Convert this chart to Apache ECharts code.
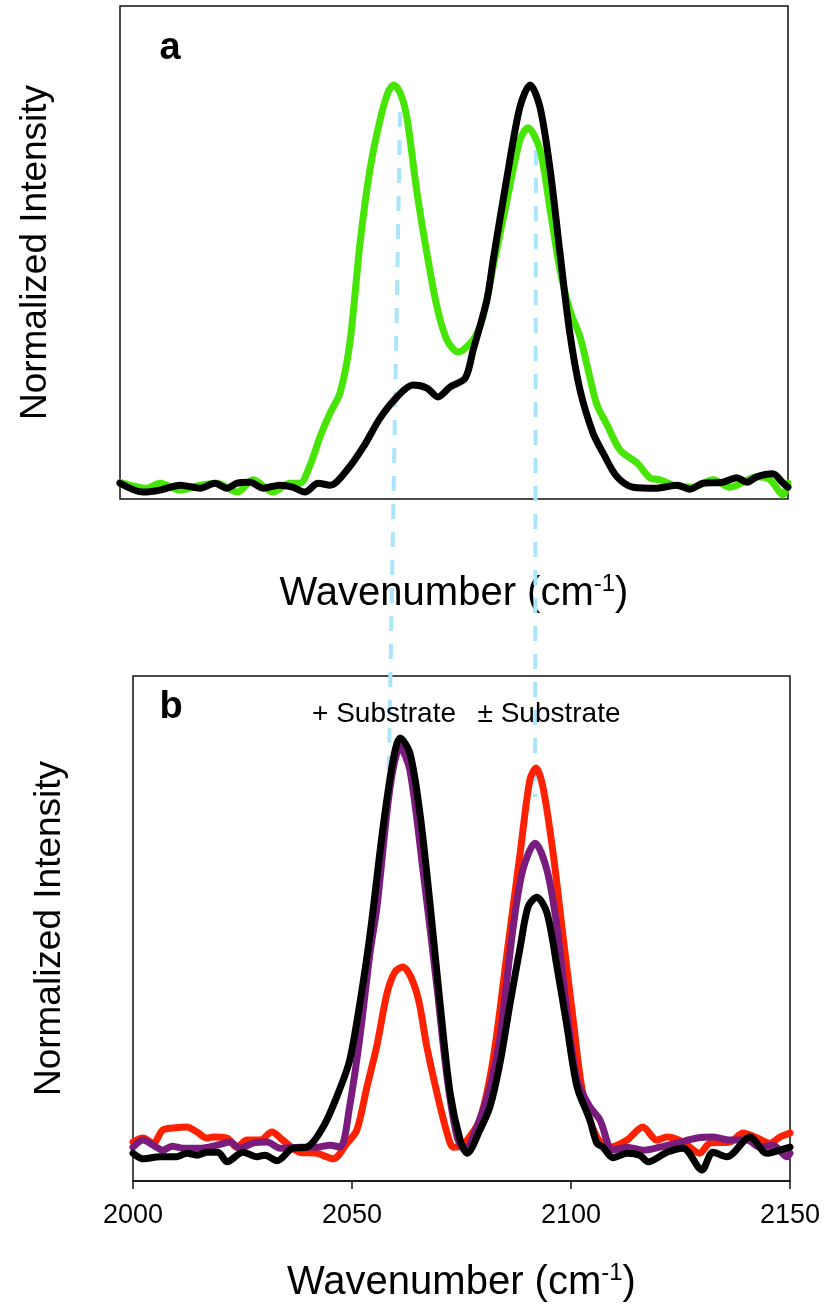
<!DOCTYPE html>
<html><head><meta charset="utf-8">
<script src="https://cdn.jsdelivr.net/npm/echarts@6/dist/echarts.min.js"></script>
<style>html,body{margin:0;padding:0;background:#fff}#c{width:827px;height:1304px}</style>
</head><body><div id="c"></div>
<script>
// ---------- data ----------
const xTicks = [2000, 2050, 2100, 2150];

// panel a
const greenA = [[2000,0.034],[2006.1,0.022],[2009.0,0.032],[2013.5,0.018],[2018.0,0.028],[2021.8,0.032],[2026.3,0.014],[2029.9,0.039],[2034.4,0.014],[2038.2,0.032],[2040.4,0.032],[2042.7,0.069],[2044.9,0.126],[2047.2,0.175],[2049.4,0.215],[2051.6,0.316],[2053.9,0.519],[2056.1,0.667],[2058.4,0.769],[2060.2,0.825],[2061.5,0.840],[2063.0,0.822],[2064.4,0.775],[2066.7,0.621],[2068.9,0.499],[2071.2,0.389],[2073.4,0.323],[2075.9,0.298],[2079.3,0.323],[2081.5,0.369],[2083.8,0.471],[2086.9,0.606],[2089.8,0.728],[2091.6,0.753],[2094.3,0.708],[2096.6,0.586],[2098.8,0.465],[2101.0,0.383],[2103.3,0.329],[2105.5,0.247],[2107.1,0.191],[2109.4,0.150],[2112.3,0.099],[2116.1,0.073],[2119.0,0.043],[2121.3,0.039],[2124.2,0.028],[2128.7,0.024],[2133.2,0.039],[2137.0,0.024],[2143.0,0.045],[2146.0,0.039],[2148.9,0.008],[2150,0.032]];
const blackA = [[2000,0.032],[2005.2,0.014],[2009.0,0.018],[2013.5,0.028],[2018.0,0.022],[2021.3,0.032],[2024.0,0.022],[2026.3,0.032],[2029.2,0.034],[2032.1,0.022],[2035.9,0.028],[2038.8,0.024],[2041.5,0.014],[2044.5,0.032],[2047.2,0.028],[2051.0,0.059],[2054.6,0.105],[2058.4,0.164],[2062.2,0.207],[2065.8,0.231],[2068.9,0.225],[2071.4,0.207],[2074.1,0.227],[2077.5,0.245],[2079.3,0.302],[2082.4,0.404],[2083.8,0.485],[2086.9,0.653],[2089.8,0.795],[2092.1,0.840],[2094.3,0.795],[2096.6,0.667],[2098.8,0.499],[2101.0,0.337],[2103.3,0.221],[2106.2,0.134],[2108.5,0.093],[2111.6,0.045],[2115.2,0.024],[2120.6,0.022],[2125.1,0.028],[2128.0,0.020],[2130.9,0.032],[2135.4,0.034],[2138.5,0.043],[2140.8,0.034],[2143.0,0.045],[2146.6,0.051],[2148.9,0.032],[2150,0.024]];

// panel b
const redB = [[2000,0.077],[2002.3,0.085],[2004.6,0.075],[2006.8,0.101],[2009.1,0.105],[2012.3,0.107],[2014.6,0.097],[2016.9,0.085],[2018.3,0.087],[2021.5,0.085],[2023.7,0.067],[2026.0,0.081],[2029.0,0.081],[2031.7,0.097],[2034.2,0.081],[2038.1,0.057],[2042.0,0.055],[2045.7,0.044],[2048.9,0.075],[2051.1,0.101],[2053.4,0.186],[2055.7,0.269],[2058.0,0.372],[2059.8,0.414],[2061.6,0.424],[2064.8,0.372],[2067.1,0.265],[2069.4,0.174],[2071.7,0.095],[2073.1,0.067],[2074.7,0.069],[2076.3,0.081],[2079.2,0.121],[2082.2,0.240],[2085.4,0.451],[2088.4,0.650],[2090.6,0.794],[2092.0,0.818],[2093.6,0.780],[2095.9,0.650],[2098.2,0.483],[2100.5,0.319],[2102.7,0.174],[2105.9,0.087],[2108.9,0.067],[2112.8,0.081],[2116.4,0.107],[2119.6,0.081],[2121.9,0.087],[2125.6,0.077],[2129.4,0.055],[2131.7,0.075],[2136.3,0.077],[2139.3,0.095],[2142.5,0.085],[2145.4,0.075],[2147.7,0.087],[2150,0.095]];
const purpleB = [[2000,0.067],[2002.3,0.081],[2004.6,0.071],[2006.8,0.061],[2008.9,0.069],[2011.4,0.065],[2015.3,0.065],[2019.2,0.071],[2022.1,0.077],[2024.4,0.065],[2027.4,0.075],[2030.6,0.077],[2033.6,0.065],[2038.1,0.067],[2042.0,0.067],[2045.0,0.071],[2047.3,0.067],[2049.5,0.150],[2051.8,0.285],[2054.1,0.451],[2055.7,0.543],[2058.7,0.780],[2061.0,0.859],[2063.2,0.814],[2066.2,0.616],[2069.4,0.384],[2071.7,0.206],[2074.0,0.087],[2075.8,0.061],[2078.5,0.107],[2081.5,0.186],[2083.8,0.285],[2086.8,0.503],[2089.0,0.616],[2091.8,0.669],[2094.5,0.616],[2096.8,0.503],[2099.1,0.333],[2101.4,0.200],[2104.3,0.147],[2106.6,0.121],[2109.6,0.061],[2112.8,0.067],[2116.4,0.061],[2120.3,0.067],[2124.2,0.075],[2128.8,0.085],[2132.4,0.087],[2136.3,0.081],[2140.2,0.081],[2143.1,0.067],[2146.1,0.071],[2149.3,0.048],[2150,0.055]];
const blackB = [[2000,0.055],[2002.3,0.044],[2006.2,0.048],[2010.0,0.048],[2012.3,0.055],[2014.6,0.051],[2016.9,0.057],[2019.4,0.057],[2021.5,0.038],[2025.1,0.057],[2028.3,0.048],[2030.1,0.051],[2032.9,0.040],[2036.5,0.065],[2039.7,0.067],[2043.6,0.110],[2047.3,0.184],[2049.5,0.240],[2051.8,0.352],[2054.1,0.487],[2057.1,0.701],[2059.4,0.834],[2061.0,0.877],[2063.2,0.848],[2065.5,0.729],[2067.8,0.550],[2070.1,0.352],[2072.4,0.174],[2074.7,0.081],[2076.3,0.055],[2079.2,0.101],[2081.5,0.147],[2083.8,0.234],[2086.1,0.352],[2088.4,0.463],[2090.2,0.543],[2092.2,0.562],[2094.5,0.531],[2096.8,0.424],[2099.1,0.305],[2101.4,0.186],[2104.3,0.121],[2105.9,0.075],[2107.3,0.067],[2109.6,0.046],[2112.8,0.055],[2115.7,0.051],[2117.6,0.038],[2121.9,0.057],[2125.6,0.065],[2129.9,0.022],[2132.4,0.057],[2135.6,0.048],[2140.9,0.087],[2144.7,0.055],[2147.7,0.061],[2150,0.067]];

// dashed guide lines: [wavenumber, intensity] in panel a (top) and panel b (bottom)
const guideTop = [[2062.9,0.785],[2093.4,0.708]];
const guideBottom = [[2058.4,0.814],[2091.8,0.760]];

const panelLabels = ['a','b'];
const annotations = ['+ Substrate','\u00b1 Substrate'];
// ---------- chart ----------
const FF = "'Liberation Sans', Arial, Helvetica, sans-serif";
const chart = echarts.init(document.getElementById('c'), null, {renderer:'canvas'});
const xName = '{t|Wavenumber (cm}{s|-1}{t|)}';
const xNameStyle = {rich:{t:{fontSize:40,fontFamily:FF,color:'#000',lineHeight:44},s:{fontSize:24,fontFamily:FF,color:'#000',verticalAlign:'top',lineHeight:44,padding:[0,0,14,0]}}};
function line(data, color, xi){
  return {type:'line', xAxisIndex:xi, yAxisIndex:xi, data:data, smooth:0.3, symbol:'none',
    lineStyle:{color:color,width:7,cap:'round',join:'round'}, silent:true, animation:false};
}
const option = {
  animation:false,
  backgroundColor:'#fff',
  grid:[
    {left:120, top:6, width:668, height:493, show:true, borderColor:'#111', borderWidth:1.5, backgroundColor:'transparent'},
    {left:133, top:676, width:657, height:505, show:true, borderColor:'#111', borderWidth:1.5, backgroundColor:'transparent'}
  ],
  xAxis:[
    {type:'value', gridIndex:0, min:2000, max:2150, interval:50, axisLine:{show:false}, axisTick:{show:false}, axisLabel:{show:false}, splitLine:{show:false},
     name:xName, nameLocation:'middle', nameGap:73, nameTextStyle:xNameStyle},
    {type:'value', gridIndex:1, min:2000, max:2150, interval:50, axisLine:{show:true, lineStyle:{color:'#111',width:1.5}}, axisTick:{show:true, inside:false, length:8, lineStyle:{color:'#111',width:1.5}},
     axisLabel:{show:true, margin:21, fontSize:27, fontFamily:FF, color:'#000', formatter:function(v){return xTicks.indexOf(v)>=0? String(v):'';}}, splitLine:{show:false},
     name:xName, nameLocation:'middle', nameGap:80, nameTextStyle:xNameStyle}
  ],
  yAxis:[
    {type:'value', gridIndex:0, min:0, max:1, axisLine:{show:false}, axisTick:{show:false}, axisLabel:{show:false}, splitLine:{show:false},
     name:'Normalized Intensity', nameLocation:'middle', nameGap:66, nameTextStyle:{fontSize:37, fontFamily:FF, color:'#000'}},
    {type:'value', gridIndex:1, min:0, max:1, axisLine:{show:false}, axisTick:{show:false}, axisLabel:{show:false}, splitLine:{show:false},
     name:'Normalized Intensity', nameLocation:'middle', nameGap:65, nameTextStyle:{fontSize:37, fontFamily:FF, color:'#000'}}
  ],
  series:[
    line(greenA,'#46e506',0),
    line(blackA,'#000000',0),
    line(redB,'#ff2200',1),
    line(purpleB,'#7a1c7d',1),
    line(blackB,'#000000',1)
  ]
};
chart.setOption(option);

const g = [];
for (let i=0;i<guideTop.length;i++){
  const p1 = chart.convertToPixel({gridIndex:0}, guideTop[i]);
  const p2 = chart.convertToPixel({gridIndex:1}, guideBottom[i]);
  g.push({type:'line', silent:true, z:1, shape:{x1:p1[0],y1:p1[1],x2:p2[0],y2:p2[1]},
    style:{stroke:'#aae5fb', lineWidth:4, lineDash:[15,13]}});
}
g.push({type:'text', z:10, x:170, y:49, style:{text:panelLabels[0], font:"bold 38px "+FF, fill:'#000', align:'center', verticalAlign:'middle'}});
g.push({type:'text', z:10, x:171, y:708, style:{text:panelLabels[1], font:"bold 38px "+FF, fill:'#000', align:'center', verticalAlign:'middle'}});
g.push({type:'text', z:10, x:384, y:714, style:{text:annotations[0], font:"28px "+FF, fill:'#000', align:'center', verticalAlign:'middle'}});
g.push({type:'text', z:10, x:549, y:714, style:{text:annotations[1], font:"28px "+FF, fill:'#000', align:'center', verticalAlign:'middle'}});
chart.setOption({graphic:g});
</script></body></html>
